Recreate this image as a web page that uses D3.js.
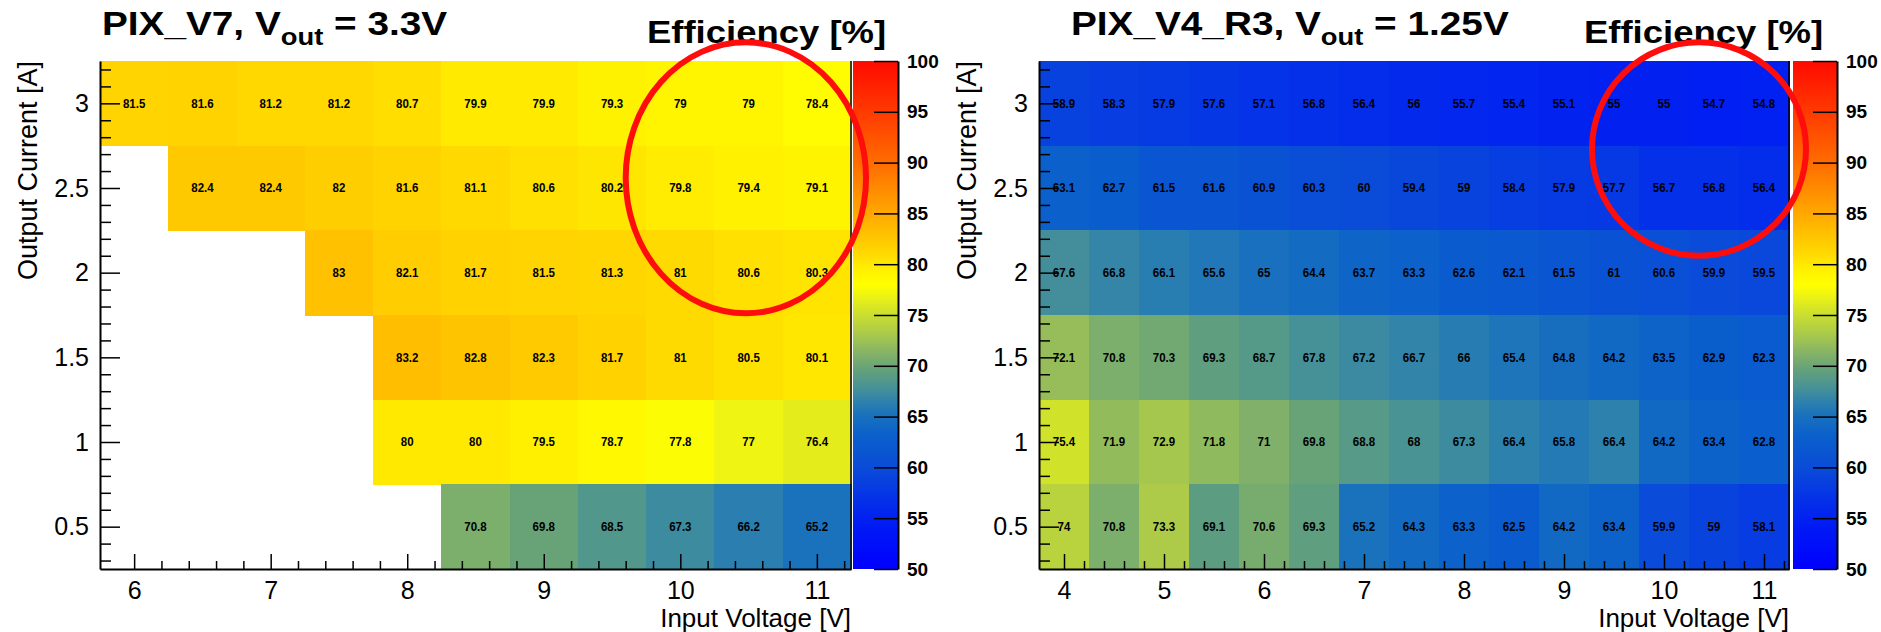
<!DOCTYPE html>
<html>
<head>
<meta charset="utf-8">
<script src="https://cdn.jsdelivr.net/npm/d3@7"></script>
<style>
  html, body { margin: 0; padding: 0; background: #fff; }
  svg { display: block; font-family: "Liberation Sans", Arial, Helvetica, sans-serif; }
</style>
</head>
<body>
<svg id="chart" width="1881" height="632"></svg>
<script>
// Output current rows (A), listed top to bottom
const currents = [3, 2.5, 2, 1.5, 1, 0.5];

// PIX_V7, Vout = 3.3 V : input voltage columns (V) and efficiency (%) per current row
const v7Vin = [6, 6.5, 7, 7.5, 8, 8.5, 9, 9.5, 10, 10.5, 11];
const v7At3A   = [81.5, 81.6, 81.2, 81.2, 80.7, 79.9, 79.9, 79.3, 79, 79, 78.4];
const v7At2p5A = [null, 82.4, 82.4, 82, 81.6, 81.1, 80.6, 80.2, 79.8, 79.4, 79.1];
const v7At2A   = [null, null, null, 83, 82.1, 81.7, 81.5, 81.3, 81, 80.6, 80.3];
const v7At1p5A = [null, null, null, null, 83.2, 82.8, 82.3, 81.7, 81, 80.5, 80.1];
const v7At1A   = [null, null, null, null, 80, 80, 79.5, 78.7, 77.8, 77, 76.4];
const v7At0p5A = [null, null, null, null, null, 70.8, 69.8, 68.5, 67.3, 66.2, 65.2];

// PIX_V4_R3, Vout = 1.25 V
const v4Vin = [4, 4.5, 5, 5.5, 6, 6.5, 7, 7.5, 8, 8.5, 9, 9.5, 10, 10.5, 11];
const v4At3A   = [58.9, 58.3, 57.9, 57.6, 57.1, 56.8, 56.4, 56, 55.7, 55.4, 55.1, 55, 55, 54.7, 54.8];
const v4At2p5A = [63.1, 62.7, 61.5, 61.6, 60.9, 60.3, 60, 59.4, 59, 58.4, 57.9, 57.7, 56.7, 56.8, 56.4];
const v4At2A   = [67.6, 66.8, 66.1, 65.6, 65, 64.4, 63.7, 63.3, 62.6, 62.1, 61.5, 61, 60.6, 59.9, 59.5];
const v4At1p5A = [72.1, 70.8, 70.3, 69.3, 68.7, 67.8, 67.2, 66.7, 66, 65.4, 64.8, 64.2, 63.5, 62.9, 62.3];
const v4At1A   = [75.4, 71.9, 72.9, 71.8, 71, 69.8, 68.8, 68, 67.3, 66.4, 65.8, 66.4, 64.2, 63.4, 62.8];
const v4At0p5A = [74, 70.8, 73.3, 69.1, 70.6, 69.3, 65.2, 64.3, 63.3, 62.5, 64.2, 63.4, 59.9, 59, 58.1];

// Tick labels
const v7VoltTicks = [6, 7, 8, 9, 10, 11];
const v4VoltTicks = [4, 5, 6, 7, 8, 9, 10, 11];
const currentTicks = [0.5, 1, 1.5, 2, 2.5, 3];
const effTicks = [50, 55, 60, 65, 70, 75, 80, 85, 90, 95, 100];

// Colour palette (efficiency % -> colour), blue through green and yellow to red
const paletteStops  = [50, 54, 57, 60, 63, 65, 66.5, 68, 69.5, 71, 73, 75, 77, 78, 79.5, 81, 82.5, 84, 87, 90, 95, 100];
const paletteColors = ["#0000ff", "#0019f5", "#0532e8", "#0a4cd8", "#0a5fcc", "#1870be", "#2e82ac", "#4a9394",
                       "#62a07c", "#80b06a", "#a8c84c", "#c9de30", "#f0f412", "#ffff00", "#fff000", "#ffda00",
                       "#ffc800", "#ffb400", "#ff9000", "#ff6c00", "#ff3a00", "#ff0a00"];

const color = d3.scaleLinear().domain(paletteStops).range(paletteColors)
  .interpolate(d3.interpolateRgb).clamp(true);

const svg = d3.select("#chart");
const defs = svg.append("defs");
const TOP = 61, BOTTOM = 569;

function drawPanel(p) {
  const g = svg.append("g");
  const x = d3.scaleLinear().domain(p.xDomain).range([p.left, p.right]);
  const y = d3.scaleLinear().domain([0.25, 3.25]).range([BOTTOM, TOP]);

  // heat-map cells
  const cells = [];
  p.rows.forEach((vals, i) => vals.forEach((v, j) => {
    if (v !== null) cells.push({ vin: p.vin[j], cur: currents[i], eff: v });
  }));

  g.append("g").attr("shape-rendering", "crispEdges")
    .selectAll("rect").data(cells).join("rect")
    .attr("x", d => x(d.vin - 0.25))
    .attr("y", d => y(d.cur + 0.25))
    .attr("width", d => x(d.vin + 0.25) - x(d.vin - 0.25) + 0.5)
    .attr("height", d => y(d.cur - 0.25) - y(d.cur + 0.25) + 0.5)
    .attr("fill", d => color(d.eff));

  g.append("g").selectAll("text").data(cells).join("text")
    .attr("transform", d => `translate(${x(d.vin)},${y(d.cur)}) scale(0.92,1.08)`)
    .attr("text-anchor", "middle")
    .attr("dominant-baseline", "central")
    .attr("font-size", 12.5)
    .attr("font-weight", "bold")
    .attr("fill", "#000")
    .text(d => String(d.eff));

  // x axis: major and minor ticks pointing into the plot
  const xMinor = d3.range(Math.round(p.xDomain[0] * 5) + 1, Math.round(p.xDomain[1] * 5) + 1)
    .filter(k => k % 5 !== 0).map(k => k / 5);
  const gxm = g.append("g").attr("transform", `translate(0,${BOTTOM})`)
    .call(d3.axisBottom(x).tickValues(xMinor).tickSizeInner(-8).tickSizeOuter(0).tickFormat(""));
  gxm.select(".domain").remove();
  gxm.selectAll("line").attr("stroke-width", 1.5);

  const gx = g.append("g").attr("transform", `translate(0,${BOTTOM})`)
    .call(d3.axisBottom(x).tickValues(p.xTicks).tickSizeInner(-15).tickSizeOuter(0).tickPadding(12)
      .tickFormat(d3.format("d")));
  gx.select(".domain").attr("stroke-width", 2);
  gx.selectAll("line").attr("stroke-width", 1.5);
  gx.selectAll("text").attr("font-size", 25).attr("fill", "#000");
  gx.attr("font-family", null);

  // y axis
  const yMinor = d3.range(3, 33).filter(k => k % 5 !== 0).map(k => k / 10);
  const gym = g.append("g").attr("transform", `translate(${p.left},0)`)
    .call(d3.axisLeft(y).tickValues(yMinor).tickSizeInner(-11).tickSizeOuter(0).tickFormat(""));
  gym.select(".domain").remove();
  gym.selectAll("line").attr("stroke-width", 1.5);

  const gy = g.append("g").attr("transform", `translate(${p.left},0)`)
    .call(d3.axisLeft(y).tickValues(currentTicks).tickSizeInner(-20).tickSizeOuter(0).tickPadding(11)
      .tickFormat(d => String(d)));
  gy.select(".domain").attr("stroke-width", 2);
  gy.selectAll("line").attr("stroke-width", 1.5);
  gy.selectAll("text").attr("font-size", 25).attr("fill", "#000");
  gy.attr("font-family", null);

  // right frame edge
  g.append("line").attr("x1", p.right).attr("x2", p.right).attr("y1", TOP).attr("y2", BOTTOM)
    .attr("stroke", "#000").attr("stroke-width", 1.5);

  // colour bar, filled with a gradient sampled from the palette scale
  const cb = d3.scaleLinear().domain([50, 100]).range([BOTTOM, TOP]);
  const grad = defs.append("linearGradient").attr("id", p.id + "-cb")
    .attr("x1", 0).attr("y1", 1).attr("x2", 0).attr("y2", 0);
  grad.selectAll("stop").data(d3.range(50, 100.01, 0.5)).join("stop")
    .attr("offset", d => (d - 50) / 50)
    .attr("stop-color", d => color(d));
  g.append("rect")
    .attr("x", p.cbLeft).attr("y", cb(100))
    .attr("width", p.cbRight - p.cbLeft).attr("height", cb(50) - cb(100))
    .attr("fill", `url(#${p.id}-cb)`);

  const gcb = g.append("g").attr("transform", `translate(${p.cbRight},0)`)
    .call(d3.axisRight(cb).tickValues(effTicks).tickSizeInner(-24).tickSizeOuter(0).tickPadding(9)
      .tickFormat(d3.format("d")));
  gcb.select(".domain").attr("stroke-width", 2);
  gcb.selectAll("line").attr("stroke-width", 1.5);
  gcb.selectAll("text").attr("font-size", 19).attr("font-weight", "bold").attr("fill", "#000");
  gcb.attr("font-family", null);

  // axis titles
  g.append("text")
    .attr("x", p.right).attr("y", 627)
    .attr("text-anchor", "end")
    .attr("font-size", 26)
    .text("Input Voltage [V]");

  g.append("text")
    .attr("transform", `translate(${p.left - 63},${TOP}) rotate(-90)`)
    .attr("text-anchor", "end")
    .attr("font-size", 27)
    .text("Output Current [A]");

  // panel title with subscript
  const t = g.append("text")
    .attr("transform", `translate(${p.titleX},35) scale(1.14,1)`)
    .attr("font-size", 34).attr("font-weight", "bold");
  t.append("tspan").text(p.titleMain + ", V");
  t.append("tspan").attr("font-size", 24).attr("dy", 10).text("out");
  t.append("tspan").attr("dy", -10).text(" = " + p.vout);

  g.append("text")
    .attr("transform", `translate(${p.effX},43) scale(1.14,1)`)
    .attr("font-size", 32).attr("font-weight", "bold")
    .text("Efficiency [%]");

  // highlighted region
  g.append("ellipse")
    .attr("cx", x(p.ring.v)).attr("cy", y(p.ring.a))
    .attr("rx", x(p.ring.v + p.ring.dv) - x(p.ring.v))
    .attr("ry", y(p.ring.a - p.ring.da) - y(p.ring.a))
    .attr("fill", "none").attr("stroke", "#ff0d0d").attr("stroke-width", 6);
}

drawPanel({
  id: "v7",
  vin: v7Vin,
  rows: [v7At3A, v7At2p5A, v7At2A, v7At1p5A, v7At1A, v7At0p5A],
  xDomain: [5.75, 11.25], xTicks: v7VoltTicks,
  left: 100, right: 851, cbLeft: 853, cbRight: 898,
  titleMain: "PIX_V7", vout: "3.3V", titleX: 102, effX: 647,
  ring: { v: 10.48, a: 2.56, dv: 0.88, da: 0.80 }
});

drawPanel({
  id: "v4",
  vin: v4Vin,
  rows: [v4At3A, v4At2p5A, v4At2A, v4At1p5A, v4At1A, v4At0p5A],
  xDomain: [3.75, 11.25], xTicks: v4VoltTicks,
  left: 1039, right: 1789, cbLeft: 1793, cbRight: 1837,
  titleMain: "PIX_V4_R3", vout: "1.25V", titleX: 1071, effX: 1584,
  ring: { v: 10.35, a: 2.73, dv: 1.07, da: 0.63 }
});
</script>
</body>
</html>
